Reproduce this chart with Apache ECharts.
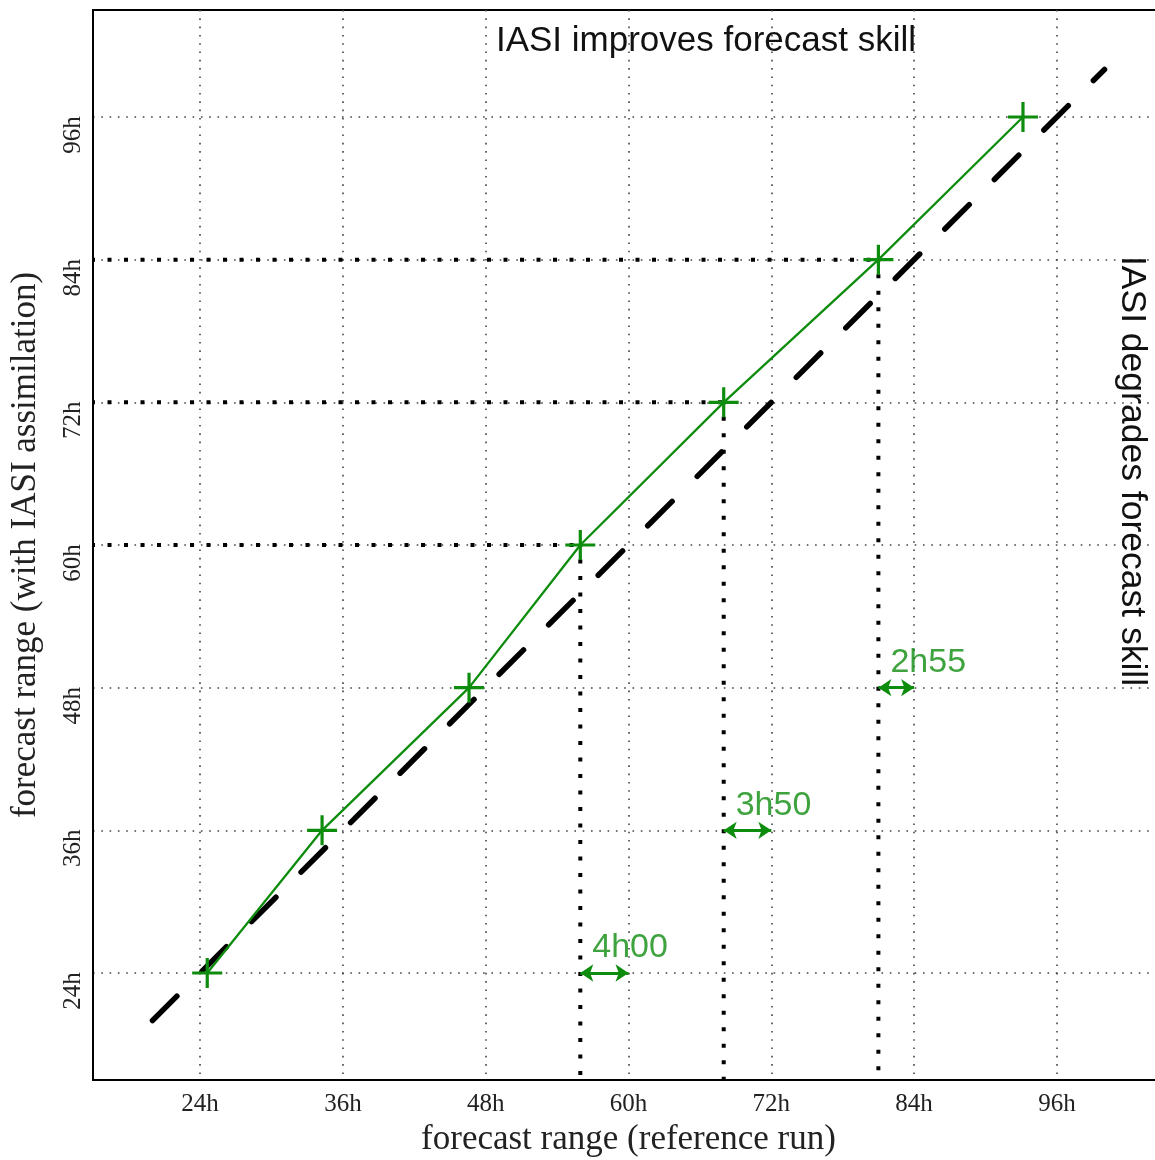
<!DOCTYPE html>
<html><head><meta charset="utf-8">
<script src="https://cdn.jsdelivr.net/npm/echarts@6/dist/echarts.min.js"></script>
<style>html,body{margin:0;padding:0;background:#fff}#c{width:1155px;height:1160px}</style>
</head><body><div id="c"></div>
<script>
// ---- data ----
const tickValues = [24, 36, 48, 60, 72, 84, 96];
const axisRange = [15, 105];
const refRange = [24.6, 34.25, 46.6, 55.95, 68.0, 81.0, 93.15];   // x: forecast range (reference run)
const iasiRange = [24, 36, 48, 60, 72, 84, 96];                    // y: forecast range (with IASI)
const diagonal = [20, 100];                                         // y = x reference line ends
const projected = [3, 4, 5];                                        // points with projection lines
const gainLabels = ['4h00', '3h50', '2h55'];
const gainStart = [55.95, 68.0, 81.0];
const gainEnd = [60, 72, 84];
const gainY = [24, 36, 48];
const topText = 'IASI improves forecast skill';
const sideText = 'IASI degrades forecast skill';
const xName = 'forecast range (reference run)';
const yName = 'forecast range (with IASI assimilation)';

// ---- styles ----
const GREEN = '#0e8c0e';
const SERIF = '"Liberation Serif", "Times New Roman", serif';
const SANS = '"Liberation Sans", Arial, sans-serif';
const gridLine = { color: '#444', width: 1.6, type: [1.6, 6.7] };
const heavyDot = { color: '#000', width: 4, type: [4, 12.5], dashOffset: 2, cap: 'butt' };
const plusPath = 'path://M-1.6,-15L1.6,-15L1.6,-1.6L15,-1.6L15,1.6L1.6,1.6L1.6,15L-1.6,15L-1.6,1.6L-15,1.6L-15,-1.6L-1.6,-1.6Z';

const series = [];
// projection lines
projected.forEach(i => {
  series.push({
    type: 'line', data: [[refRange[i], iasiRange[i]], [refRange[i], axisRange[0]]],
    symbol: 'none', lineStyle: heavyDot, z: 2, silent: true, animation: false
  });
  series.push({
    type: 'line', data: [[axisRange[0], iasiRange[i]], [refRange[i], iasiRange[i]]],
    symbol: 'none', lineStyle: heavyDot, z: 2, silent: true, animation: false
  });
});
// diagonal y = x
series.push({
  type: 'line', data: [[diagonal[0], diagonal[0]], [diagonal[1], diagonal[1]]],
  symbol: 'none', z: 3, silent: true, animation: false,
  lineStyle: { color: '#000', width: 5.5, type: [34.5, 35.5], cap: 'round' }
});
// green curve
series.push({
  type: 'line', data: refRange.map((x, k) => [x, iasiRange[k]]),
  symbol: plusPath, symbolSize: 30, showSymbol: true, z: 4, animation: false,
  itemStyle: { color: GREEN, borderWidth: 0 },
  lineStyle: { color: GREEN, width: 2.3 }
});
// gain arrows
series.push({
  type: 'line', data: [], z: 5, animation: false,
  markLine: {
    silent: true, animation: false, symbol: ['arrow', 'arrow'], symbolSize: [13, 13],
    lineStyle: { color: GREEN, width: 3, type: 'solid' }, label: { show: false },
    data: gainStart.map((s, k) => [{ coord: [s, gainY[k]] }, { coord: [gainEnd[k], gainY[k]] }])
  }
});
// gain labels
series.push({
  type: 'scatter', data: gainStart.map((s, k) => [s, gainY[k]]), symbolSize: 0, z: 6,
  animation: false, silent: true,
  label: {
    show: true, position: [12, -42], align: 'left', verticalAlign: 'top',
    formatter: p => gainLabels[p.dataIndex],
    fontFamily: SANS, fontSize: 34, color: GREEN
  }
});

const chart = echarts.init(document.getElementById('c'), null, { renderer: 'canvas' });
chart.setOption({
  backgroundColor: '#fff',
  animation: false,
  grid: { left: 93, top: 10, width: 1071, height: 1070, outerBoundsMode: 'none', containLabel: false,
          show: true, borderColor: '#000', borderWidth: 2, backgroundColor: 'transparent' },
  xAxis: {
    type: 'value', min: axisRange[0], max: axisRange[1],
    axisLine: { show: true, lineStyle: { color: '#000', width: 2 } },
    axisTick: { show: false, customValues: tickValues },
    axisLabel: { customValues: tickValues, formatter: v => v + 'h', fontFamily: SERIF, fontSize: 25, color: '#222', margin: 12 },
    splitLine: { show: true, lineStyle: gridLine },
    name: xName, nameLocation: 'middle', nameGap: 24,
    nameTextStyle: { fontFamily: SERIF, fontSize: 35, color: '#222' }
  },
  yAxis: {
    type: 'value', min: axisRange[0], max: axisRange[1],
    axisLine: { show: true, lineStyle: { color: '#000', width: 2 } },
    axisTick: { show: false, customValues: tickValues },
    axisLabel: { customValues: tickValues, formatter: v => v + 'h', rotate: 90, fontFamily: SERIF, fontSize: 25, color: '#222', margin: 7, padding: [0, 36, 0, 0] },
    splitLine: { show: true, lineStyle: gridLine },
    name: yName, nameLocation: 'middle', nameGap: 50,
    nameTextStyle: { fontFamily: SERIF, fontSize: 35, color: '#222' }
  },
  graphic: [
    { type: 'text', x: 706, y: 41, z: 10, silent: true,
      style: { text: topText, font: '35px ' + SANS, fill: '#111', align: 'center', verticalAlign: 'middle' } },
    { type: 'text', x: 1132, y: 471, rotation: -Math.PI / 2, z: 10, silent: true,
      style: { text: sideText, font: '35.5px ' + SANS, fill: '#111', align: 'center', verticalAlign: 'middle' } }
  ],
  series: series
});
</script>
</body></html>
